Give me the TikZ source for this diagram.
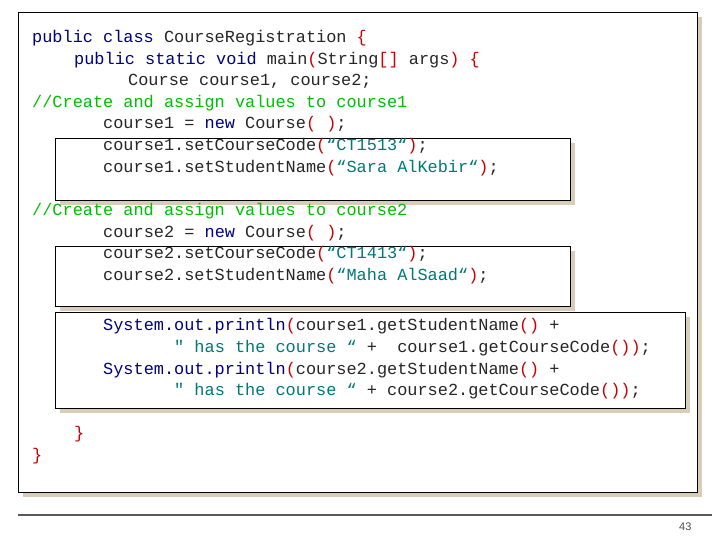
\documentclass[tikz,border=0pt]{standalone}
\usepackage{fontspec}
\setmonofont{Liberation Mono}
\setsansfont{Liberation Sans}
\definecolor{kw}{RGB}{0,0,128}
\definecolor{br}{RGB}{200,0,0}
\definecolor{cm}{RGB}{0,190,0}
\definecolor{st}{RGB}{0,120,120}
\definecolor{shade}{RGB}{215,205,185}
\newcommand{\kw}[1]{\textcolor{kw}{#1}}
\newcommand{\br}[1]{\textcolor{br}{#1}}
\newcommand{\st}[1]{\textcolor{st}{#1}}
\begin{document}
\begin{tikzpicture}[x=1pt,y=-1pt,
        code/.style={anchor=west, inner sep=0pt, font=\ttfamily\fontsize{16.9}{18}\selectfont, text=black!85},
        frame/.style={draw=black, fill=white, line width=0.8pt},
        shadow/.style={fill=shade, draw=none}]
        \useasboundingbox (0,0) rectangle (720,540);

        % Outer frame
        \fill[shadow] (23,17) rectangle (702,497);
        \draw[frame] (18,12) rectangle (697,492);

        % Highlight boxes
        \fill[shadow] (60,143) rectangle (575,205);
        \draw[frame] (55,138) rectangle (570,200);
        \fill[shadow] (60,251) rectangle (575,311);
        \draw[frame] (55,246) rectangle (570,306);
        \fill[shadow] (60,317) rectangle (690,413);
        \draw[frame] (55,312) rectangle (685,408);

        % Code lines
        \node[code] (l1) at (32,38) {\kw{public class} CourseRegistration \br{\{}};
        \node[code] (l2) at (74,60) {\kw{public static void} main\br{(}String\br{[]} args\br{)} \br{\{}};
        \node[code] (l3) at (128,81) {Course course1, course2;};
        \node[code, text=cm] (c1) at (32,103) {//Create and assign values to course1};
        \node[code] (l4) at (103,124) {course1 = \kw{new} Course\br{( )};};
        \node[code] (l5) at (103,146) {course1.setCourseCode\br{(}\st{“CT1513“}\br{)};};
        \node[code] (l6) at (103,168) {course1.setStudentName\br{(}\st{“Sara AlKebir“}\br{)};};
        \node[code, text=cm] (c2) at (32,211) {//Create and assign values to course2};
        \node[code] (l7) at (103,233) {course2 = \kw{new} Course\br{( )};};
        \node[code] (l8) at (103,254) {course2.setCourseCode\br{(}\st{“CT1413“}\br{)};};
        \node[code] (l9) at (103,276) {course2.setStudentName\br{(}\st{“Maha AlSaad“}\br{)};};
        \node[code] (p1) at (103,326) {\kw{System.out.println}\br{(}course1.getStudentName\br{()} +};
        \node[code] (p2) at (174,348) {\st{" has the course “} + \ course1.getCourseCode\br{())};};
        \node[code] (p3) at (103,370) {\kw{System.out.println}\br{(}course2.getStudentName\br{()} +};
        \node[code] (p4) at (174,391) {\st{" has the course “} + course2.getCourseCode\br{())};};
        \node[code, text=br] (e1) at (74,434) {\}};
        \node[code, text=br] (e2) at (32,456) {\}};

        % Footer
        \draw[black!65, line width=2pt] (18,515) -- (712,515);
        \node[anchor=east, font=\sffamily\fontsize{11}{12}\selectfont, text=black!70] (pg) at (695,527) {43};
\end{tikzpicture}
\end{document}
